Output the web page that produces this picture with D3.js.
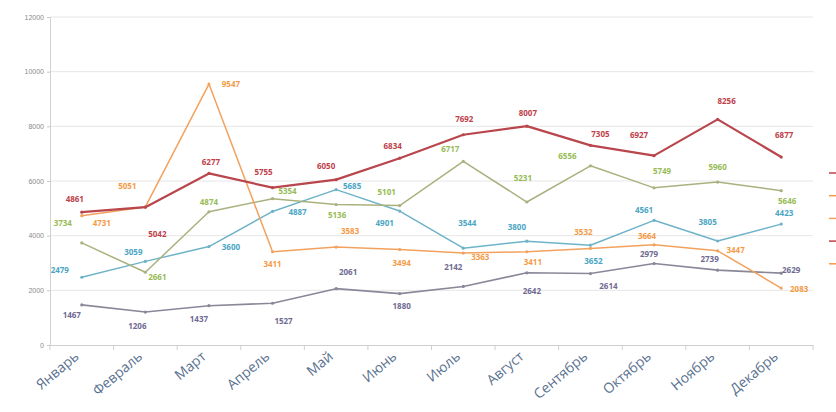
<!DOCTYPE html>
<html>
<head>
<meta charset="utf-8">
<script src="https://cdn.jsdelivr.net/npm/d3@7"></script>
<style>
  body { margin: 0; background: #fff; }
  svg { display: block; font-family: 'Open Sans', sans-serif; }
</style>
</head>
<body>
<svg id="chart"></svg>
<script>
var months = ['Январь', 'Февраль', 'Март', 'Апрель', 'Май', 'Июнь', 'Июль', 'Август', 'Сентябрь', 'Октябрь', 'Ноябрь', 'Декабрь']
var yTicks = [0, 2000, 4000, 6000, 8000, 10000, 12000]

var redValues = [4861, 5042, 6277, 5755, 6050, 6834, 7692, 8007, 7305, 6927, 8256, 6877]
var orangeValues = [4731, 5051, 9547, 3411, 3583, 3494, 3363, 3411, 3532, 3664, 3447, 2083]
var greenValues = [3734, 2661, 4874, 5354, 5136, 5101, 6717, 5231, 6556, 5749, 5960, 5646]
var blueValues = [2479, 3059, 3600, 4887, 5685, 4901, 3544, 3800, 3652, 4561, 3805, 4423]
var purpleValues = [1467, 1206, 1437, 1527, 2061, 1880, 2142, 2642, 2614, 2979, 2739, 2629]

;(function (d3) {
  var w = 836
  var h = 412

  var svg = d3.select('#chart').attr('width', w).attr('height', h)

  var x = d3.scaleBand().domain(months).range([50, 813])
  var y = d3.scaleLinear().domain([0, 12000]).range([345, 17])
  var cx = m => x(m) + x.bandwidth() / 2

  // label nudges, hand placed like in the original sheet
  var series = [
    {values: purpleValues, line: '#8a8799', text: '#6f6a92', width: 1.6,
      off: [[-10, 11], [-8, 15], [-10, 14], [11, 19], [12, -16], [2, 13], [-10, -19], [5, 19], [18, 13], [-5, -9], [-8, -10], [10, -2]]},
    {values: blueValues, line: '#6fb3c8', text: '#4aa6c4', width: 1.5,
      off: [[-22, -6], [-12, -9], [22, 1], [25, 1], [16, -3], [-15, 13], [4, -24], [-10, -13], [3, 17], [-10, -9], [-10, -18], [3, -10]]},
    {values: greenValues, line: '#a9b27f', text: '#97bb55', width: 1.5,
      off: [[-19, -19], [12, 6], [0, -9], [15, -7], [1, 11], [-13, -13], [-13, -12], [-4, -23], [-23, -9], [8, -16], [0, -14], [6, 11]]},
    {values: orangeValues, line: '#f2a25e', text: '#f59a45', width: 1.5,
      off: [[20, 8], [-18, -20], [22, 1], [0, 13], [14, -15], [2, 14], [17, 5], [6, 11], [-7, -16], [-7, -8], [18, 0], [18, 2]]},
    {values: redValues, line: '#b9464c', text: '#c0404a', width: 2.2,
      off: [[-7, -12], [12, 28], [2, -11], [-9, -15], [-10, -13], [-7, -11], [1, -15], [1, -12], [10, -10], [-15, -20], [9, -17], [3, -21]]}
  ]

  // grid
  svg.append('g').selectAll('line')
      .data(yTicks.slice(1))
      .enter().append('line')
      .attr('x1', 50).attr('x2', 813)
      .attr('y1', d => y(d)).attr('y2', d => y(d))
      .attr('stroke', '#e6e6e6')

  var yAxis = svg.append('g')
      .attr('transform', 'translate(50,0)')
      .call(d3.axisLeft(y).tickValues(yTicks).tickSize(3).tickFormat(d3.format('d')))
  yAxis.select('.domain').attr('stroke', '#d0d0d0')
  yAxis.selectAll('line').attr('stroke', '#c8c8c8')
  yAxis.selectAll('text').attr('fill', '#8a8a8a').style('font-size', '7px')

  var xAxis = svg.append('g')
      .attr('transform', 'translate(0,345)')
      .call(d3.axisBottom(x).tickSize(0).tickFormat(''))
  xAxis.select('.domain').attr('stroke', '#cfcfcf')
  xAxis.selectAll('.bound')
      .data(d3.range(13))
      .enter().append('line')
      .attr('class', 'bound')
      .attr('x1', i => 50 + i * x.step()).attr('x2', i => 50 + i * x.step())
      .attr('y1', 0).attr('y2', 5)
      .attr('stroke', '#cfcfcf')

  svg.append('g').selectAll('text')
      .data(months)
      .enter().append('text')
      .attr('transform', d => `translate(${cx(d) - 2},358) rotate(-40)`)
      .attr('text-anchor', 'end')
      .attr('fill', '#5b7290')
      .style('font-size', '14px')
      .text(d => d)

  var line = d3.line()
      .x((d, i) => cx(months[i]))
      .y(d => y(d))

  series.forEach(s => {
    svg.append('path')
        .datum(s.values)
        .attr('d', line)
        .attr('fill', 'none')
        .attr('stroke', s.line)
        .attr('stroke-width', s.width)
        .attr('stroke-linejoin', 'round')

    svg.append('g').selectAll('circle')
        .data(s.values)
        .enter().append('circle')
        .attr('cx', (d, i) => cx(months[i]))
        .attr('cy', d => y(d))
        .attr('r', 1.6)
        .attr('fill', s.line)
  })

  series.forEach(s => {
    svg.append('g').selectAll('text')
        .data(s.values)
        .enter().append('text')
        .attr('x', (d, i) => cx(months[i]) + s.off[i][0])
        .attr('y', (d, i) => y(d) + s.off[i][1])
        .attr('text-anchor', 'middle')
        .attr('dominant-baseline', 'middle')
        .attr('fill', s.text)
        .style('font-size', '8px')
        .style('font-weight', 'bold')
        .text(d => d)
  })

  // legend is cut off at the right edge, only its keys show
  var legendColors = ['#c0404a', '#f59a45', '#f2a25e', '#c0404a', '#f59a45']
  svg.append('g').selectAll('line')
      .data(legendColors)
      .enter().append('line')
      .attr('x1', 829).attr('x2', 836)
      .attr('y1', (d, i) => 173 + i * 22.7).attr('y2', (d, i) => 173 + i * 22.7)
      .attr('stroke', d => d)
      .attr('stroke-width', 1.5)
})(window.d3)
</script>
</body>
</html>
